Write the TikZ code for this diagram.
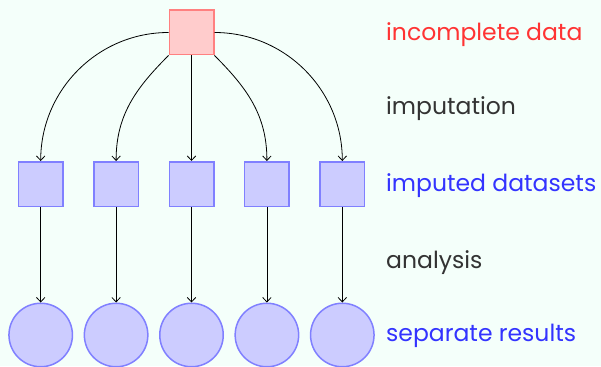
\documentclass[tikz,border=0pt]{standalone}
\usepackage{fontspec}
\setmainfont{Poppins}
\usetikzlibrary{positioning,arrows.meta}

\definecolor{bgmint}{RGB}{244,255,250}

\begin{document}
\begin{tikzpicture}[
    x=1pt,y=1pt,
    node distance=29.4pt,
    datbox/.style={rectangle,draw=red!50,fill=red!20,line width=1.5pt,minimum size=44.5pt,inner sep=0pt},
    impbox/.style={rectangle,draw=blue!50,fill=blue!20,line width=1.5pt,minimum size=44.5pt,inner sep=0pt},
    resbox/.style={circle,draw=blue!50,fill=blue!20,line width=1.5pt,minimum size=63.5pt,inner sep=0pt},
    lbl/.style={anchor=base west,inner sep=0pt,font=\fontsize{23.5}{27}\selectfont},
    arrow/.style={-{Straight Barb[length=4.5pt,width=8.5pt]},line width=0.8pt,black}
]
    \fill[bgmint] (0,0) rectangle (601,-366);
    \useasboundingbox (0,0) rectangle (601,-366);

    % incomplete data
    \node[datbox] (dat) at (191.5,-32.5) {};

    % imputed datasets
    \node[impbox,below=105.5pt of dat] (imp3) {};
    \node[impbox,left=of imp3] (imp2) {};
    \node[impbox,left=of imp2] (imp1) {};
    \node[impbox,right=of imp3] (imp4) {};
    \node[impbox,right=of imp4] (imp5) {};

    % separate results
    \node[resbox,below=95.5pt of imp1] (res1) {};
    \node[resbox,below=95.5pt of imp2] (res2) {};
    \node[resbox,below=95.5pt of imp3] (res3) {};
    \node[resbox,below=95.5pt of imp4] (res4) {};
    \node[resbox,below=95.5pt of imp5] (res5) {};

    \draw[arrow] (dat) to[out=180,in=90] (imp1);
    \draw[arrow] (dat) to[out=225,in=90] (imp2);
    \draw[arrow] (dat) -- (imp3);
    \draw[arrow] (dat) to[out=315,in=90] (imp4);
    \draw[arrow] (dat) to[out=0,in=90] (imp5);

    \draw[arrow] (imp1) -- (res1);
    \draw[arrow] (imp2) -- (res2);
    \draw[arrow] (imp3) -- (res3);
    \draw[arrow] (imp4) -- (res4);
    \draw[arrow] (imp5) -- (res5);

    % labels
    \node[lbl,text=red!80] (ldat) at (386,-40.7) {incomplete data};
    \node[lbl,text=black!80] (limp) at (386,-115) {imputation};
    \node[lbl,text=blue!80] (lsets) at (386,-191.7) {imputed datasets};
    \node[lbl,text=black!80] (lana) at (386,-268) {analysis};
    \node[lbl,text=blue!80] (lres) at (386,-341.7) {separate results};
\end{tikzpicture}
\end{document}
